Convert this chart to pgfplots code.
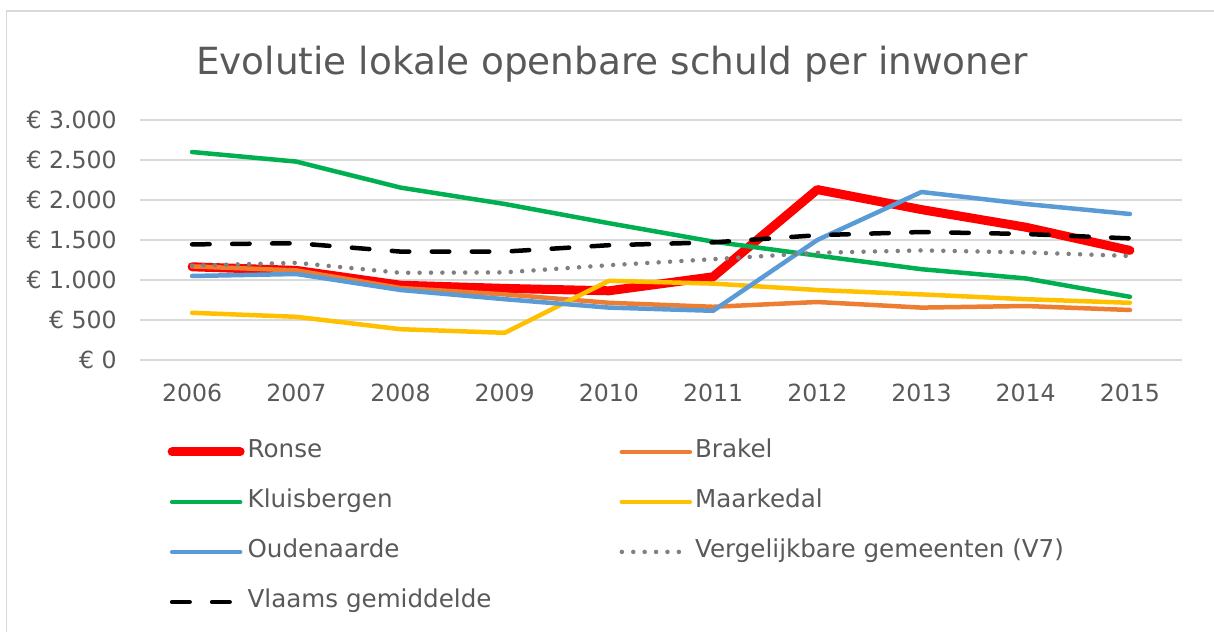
\documentclass[border=0pt]{standalone}
\usepackage{fontspec}
\setmainfont{DejaVu Sans}
\usepackage{pgfplots}
\pgfplotsset{compat=1.18}
\definecolor{txt}{HTML}{595959}
\definecolor{gridc}{HTML}{D9D9D9}
\definecolor{cRonse}{HTML}{FF0000}
\definecolor{cBrakel}{HTML}{ED7D31}
\definecolor{cKluis}{HTML}{00B050}
\definecolor{cMaark}{HTML}{FFC000}
\definecolor{cOud}{HTML}{5B9BD5}
\definecolor{cV7}{HTML}{808080}
\begin{document}
\begin{tikzpicture}
\path[use as bounding box] (0,0) rectangle (607bp,316bp);
\draw[gridc, line width=0.75bp] (3.25bp,0) -- (3.25bp,310.5bp) -- (607bp,310.5bp);
\node[txt, font=\fontsize{18.7bp}{22bp}\selectfont, anchor=base, inner sep=0pt] at (306bp,278.5bp) {Evolutie lokale openbare schuld per inwoner};
\begin{axis}[
  at={(70bp,136bp)}, anchor=south west,
  scale only axis, width=521bp, height=120bp,
  xmin=2005.5, xmax=2015.5, ymin=0, ymax=3000,
  ytick={0,500,1000,1500,2000,2500,3000},
  yticklabels={€ 0,€ 500,€ 1.000,€ 1.500,€ 2.000,€ 2.500,€ 3.000},
  xtick={2006,2007,2008,2009,2010,2011,2012,2013,2014,2015},
  xticklabels={2006,2007,2008,2009,2010,2011,2012,2013,2014,2015},
  axis line style={draw=none},
  major tick length=0pt,
  ymajorgrids,
  grid style={gridc, line width=0.75bp},
  tick label style={txt, font=\fontsize{11.8bp}{14bp}\selectfont},
  yticklabel style={anchor=base east, inner sep=0pt, xshift=-11.5bp, yshift=-4.3bp},
  xticklabel style={anchor=base, inner sep=0pt, yshift=-20.5bp},
  clip=false,
  every axis plot/.append style={line cap=round, line join=round, line width=2.25bp},
  legend columns=2,
  legend cell align=left,
  legend image code/.code={\draw[#1] (2bp,0bp) -- (36bp,0bp); \path (37.5bp,0bp);},
  legend style={at={(0.0265,-0.333)}, anchor=north west, draw=none, fill=none,
    inner sep=0pt, outer sep=0pt,
    font=\fontsize{12.3bp}{14bp}\selectfont, text=txt,
    nodes={inner sep=0pt, text height=9bp, text depth=3bp},
    row sep=13bp},
]
\addplot[cRonse, line width=4.5bp] coordinates {(2006,1165) (2007,1120) (2008,935) (2009,895) (2010,865) (2011,1040) (2012,2130) (2013,1880) (2014,1660) (2015,1370)};
\addlegendentry{\makebox[186bp][l]{Ronse}}
\addplot[cBrakel] coordinates {(2006,1170) (2007,1120) (2008,900) (2009,820) (2010,715) (2011,665) (2012,725) (2013,655) (2014,675) (2015,625)};
\addlegendentry{Brakel}
\addplot[cKluis] coordinates {(2006,2600) (2007,2480) (2008,2155) (2009,1950) (2010,1710) (2011,1480) (2012,1305) (2013,1135) (2014,1020) (2015,790)};
\addlegendentry{\makebox[186bp][l]{Kluisbergen}}
\addplot[cMaark] coordinates {(2006,590) (2007,540) (2008,385) (2009,340) (2010,990) (2011,955) (2012,875) (2013,820) (2014,760) (2015,715)};
\addlegendentry{Maarkedal}
\addplot[cOud] coordinates {(2006,1050) (2007,1075) (2008,875) (2009,760) (2010,655) (2011,615) (2012,1500) (2013,2100) (2014,1950) (2015,1825)};
\addlegendentry{\makebox[186bp][l]{Oudenaarde}}
\addplot[cV7, dash pattern=on 0bp off 5.7bp] coordinates {(2006,1180) (2007,1215) (2008,1090) (2009,1095) (2010,1185) (2011,1260) (2012,1340) (2013,1370) (2014,1345) (2015,1300)};
\addlegendentry{Vergelijkbare gemeenten (V7)}
\addplot[black, dash pattern=on 8.75bp off 11.25bp] coordinates {(2006,1445) (2007,1460) (2008,1355) (2009,1355) (2010,1435) (2011,1470) (2012,1560) (2013,1600) (2014,1575) (2015,1520)};
\addlegendentry{\makebox[186bp][l]{Vlaams gemiddelde}}
\end{axis}
\end{tikzpicture}
\end{document}
